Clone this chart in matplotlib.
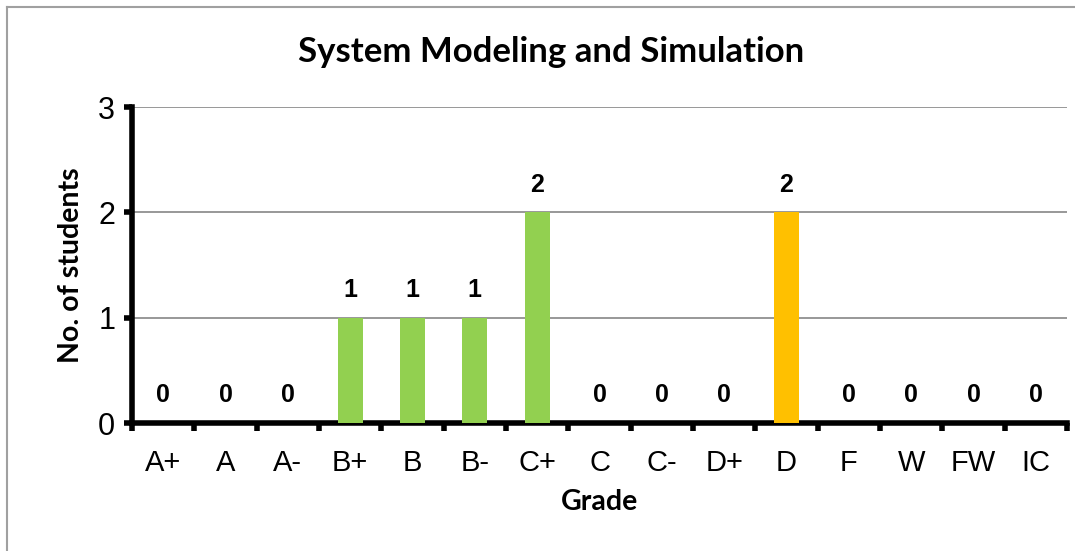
import matplotlib
matplotlib.use('Agg')
import matplotlib.pyplot as plt
import numpy as np

grades = ['A+', 'A', 'A-', 'B+', 'B', 'B-', 'C+', 'C', 'C-', 'D+', 'D', 'F', 'W', 'FW', 'IC']
students = [0, 0, 0, 1, 1, 1, 2, 0, 0, 0, 2, 0, 0, 0, 0]
bar_colors = ['#92D050'] * 10 + ['#FFC000'] + ['#92D050'] * 4

fig = plt.figure(figsize=(10.75, 5.51), dpi=100)
ax = fig.add_axes([0.1228, 0.2323, 0.9926 - 0.1228, 0.8058 - 0.2323])

x = np.arange(len(grades))
ax.bar(x, students, width=0.4, color=bar_colors, zorder=3)

# value labels
for xi, v in zip(x, students):
    ax.text(xi, v + 0.15, str(v), ha='center', va='bottom', fontsize=18,
            fontweight='bold', family='Liberation Sans', zorder=4)

ax.set_xlim(-0.5, len(grades) - 0.5)
ax.set_ylim(0, 3)
ax.set_yticks([0, 1, 2, 3])
ax.set_yticklabels(['0', '1', '2', '3'], family='Liberation Sans', fontsize=22)
ax.yaxis.grid(True, color='#868686', linewidth=1.2, zorder=0)

# category labels between boundary ticks
ax.set_xticks(np.arange(-0.5, len(grades), 1.0))
ax.set_xticklabels([])
ax.set_xticks(x, minor=True)
ax.set_xticklabels(grades, minor=True, family='Liberation Sans', fontsize=21)
ax.tick_params(axis='x', which='minor', length=0, pad=19)
ax.tick_params(axis='x', which='major', direction='out', length=6, width=4)
ax.tick_params(axis='y', direction='out', length=6, width=4, pad=6)

for s in ['top', 'right']:
    ax.spines[s].set_visible(False)
ax.spines['left'].set_linewidth(4)
ax.spines['bottom'].set_linewidth(4)

ax.set_ylabel('No. of students', family='Lato', fontweight='bold', fontsize=20.5, labelpad=10)
ax.set_xlabel('Grade', family='Lato', fontweight='bold', fontsize=20.5, labelpad=8)
fig.text(0.5126, 0.905, 'System Modeling and Simulation', ha='center', va='center',
         family='Lato', fontweight='bold', fontsize=25)

# thin frame around the chart area
fig.add_artist(plt.Line2D([0.0065, 1.0], [0.987, 0.987], color='#A0A0A0', linewidth=1.5))
fig.add_artist(plt.Line2D([0.0065, 0.0065], [0.0, 0.987], color='#A0A0A0', linewidth=1.5))

fig.savefig('out.png', dpi=100)
